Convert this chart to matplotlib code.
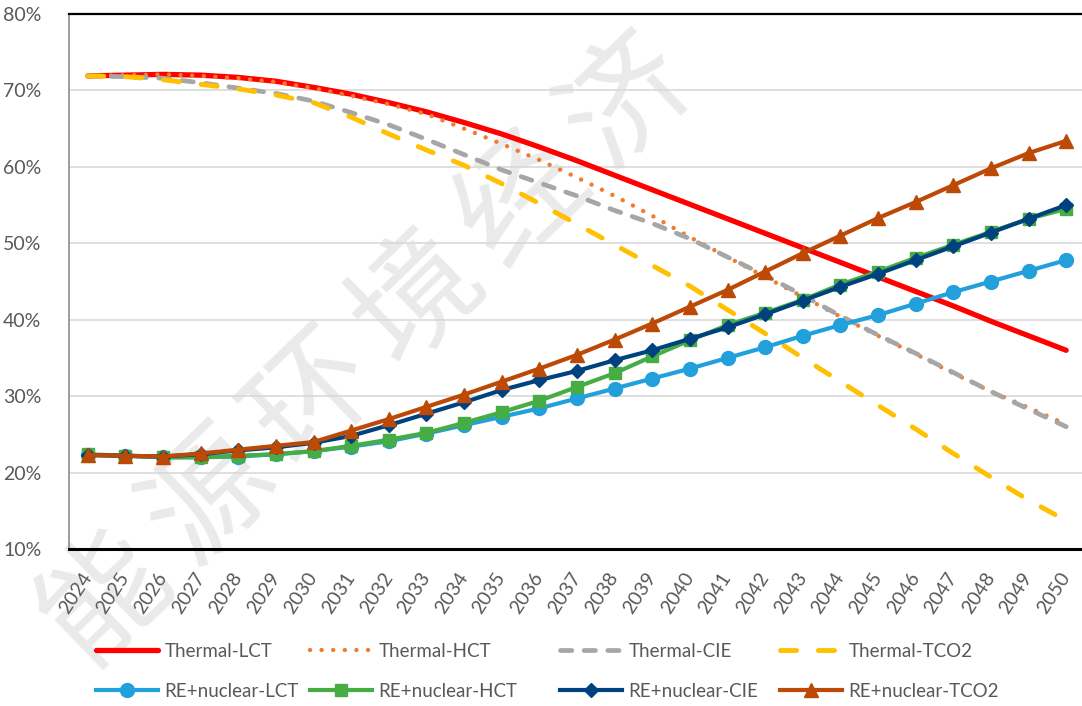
import matplotlib
matplotlib.use("Agg")
import matplotlib.pyplot as plt
import numpy as np

years = [str(y) for y in range(2024, 2051)]

thermal_lct = [71.9, 72.0, 72.1, 72.0, 71.7, 71.2, 70.4, 69.5, 68.4, 67.2, 65.8, 64.3, 62.6,
               60.8, 58.9, 57.0, 55.1, 53.2, 51.3, 49.4, 47.5, 45.6, 43.7, 41.8, 39.8, 37.9, 36.0]
thermal_hct = [71.9, 72.0, 72.1, 71.9, 71.6, 71.1, 70.3, 69.3, 68.2, 66.9, 65.0, 63.0, 60.9,
               58.6, 56.2, 53.6, 50.8, 48.2, 45.6, 43.0, 40.4, 37.9, 35.5, 33.0, 30.6, 28.5, 26.3]
thermal_cie = [71.9, 71.8, 71.6, 71.0, 70.3, 69.6, 68.6, 67.1, 65.5, 63.6, 61.6, 59.6, 57.9,
               56.2, 54.3, 52.6, 50.6, 48.2, 45.8, 43.2, 40.5, 38.0, 35.6, 33.1, 30.6, 28.3, 26.0]
thermal_tco2 = [71.9, 71.8, 71.4, 70.8, 70.2, 69.4, 68.4, 66.5, 64.3, 62.2, 60.2, 57.8, 55.2,
                52.5, 49.8, 47.1, 44.4, 41.3, 38.2, 35.0, 31.9, 28.8, 25.7, 22.5, 19.4, 16.4, 13.7]
re_lct = [22.3, 22.2, 22.0, 22.0, 22.1, 22.4, 22.8, 23.4, 24.1, 25.1, 26.2, 27.3, 28.4,
          29.7, 31.0, 32.3, 33.6, 35.0, 36.4, 37.9, 39.3, 40.6, 42.1, 43.6, 45.0, 46.4, 47.8]
re_hct = [22.4, 22.2, 22.0, 22.0, 22.2, 22.4, 22.8, 23.5, 24.3, 25.2, 26.5, 27.9, 29.4,
          31.2, 33.0, 35.2, 37.3, 39.3, 40.9, 42.6, 44.6, 46.3, 48.1, 49.8, 51.5, 53.2, 54.5]
re_cie = [22.3, 22.2, 22.1, 22.4, 22.9, 23.3, 23.9, 24.8, 26.2, 27.7, 29.2, 30.8, 32.1,
          33.3, 34.7, 36.0, 37.5, 39.0, 40.7, 42.5, 44.3, 46.0, 47.8, 49.6, 51.4, 53.2, 55.0]
re_tco2 = [22.3, 22.2, 22.1, 22.5, 23.0, 23.5, 24.0, 25.5, 27.0, 28.6, 30.2, 31.9, 33.6,
           35.4, 37.4, 39.5, 41.7, 43.9, 46.3, 48.7, 51.0, 53.3, 55.4, 57.6, 59.8, 61.8, 63.4]

labels = ["Thermal-LCT", "Thermal-HCT", "Thermal-CIE", "Thermal-TCO2",
          "RE+nuclear-LCT", "RE+nuclear-HCT", "RE+nuclear-CIE", "RE+nuclear-TCO2"]
y_ticks = [10, 20, 30, 40, 50, 60, 70, 80]
watermark = "能源环境经济"

FONT = "Lato"
TXT = "#595959"

W, H = 1082, 706
fig = plt.figure(figsize=(W / 100, H / 100), dpi=100)
fig.patch.set_facecolor("white")

# watermark, one character at a time along a diagonal
x0, y0 = 106, 598
dx, dy = 104.5, -99.5
for i, ch in enumerate(watermark):
    fig.text((x0 + i * dx) / W, 1 - (y0 + i * dy) / H, ch, fontsize=90, color="#eaeaea",
             family=["Noto Sans CJK SC", "DejaVu Sans"], rotation=44,
             rotation_mode="anchor", ha="center", va="center", zorder=-5)

ax = fig.add_axes([69 / W, 1 - 549 / H, (1085 - 69) / W, 535 / H])
ax.set_facecolor("none")
ax.set_zorder(1)

x = np.arange(len(years))

styles = [
    dict(color="#ff0000", lw=3.8, solid_capstyle="round"),
    dict(color="#f07c30", lw=3.2, linestyle=(0, (0.01, 2.6)), dash_capstyle="round"),
    dict(color="#a6a6a6", lw=3.4, linestyle=(0, (2.4, 2.6)), dash_capstyle="round"),
    dict(color="#ffc000", lw=3.5, linestyle=(0, (3.3, 4.5)), dash_capstyle="round"),
    dict(color="#22a0dc", lw=3.0, marker="o", ms=10),
    dict(color="#46ad45", lw=3.0, marker="s", ms=9),
    dict(color="#00427f", lw=3.0, marker="D", ms=7.5),
    dict(color="#bc4a06", lw=3.0, marker="^", ms=10.5),
]
series = [thermal_lct, thermal_hct, thermal_cie, thermal_tco2, re_lct, re_hct, re_cie, re_tco2]

handles = []
for s, st, lab in zip(series, styles, labels):
    h, = ax.plot(x, s, label=lab, **st)
    handles.append(h)

ax.set_xlim(-0.5, len(years) - 0.5)
ax.set_ylim(10, 80)
ax.set_yticks(y_ticks)
ax.set_yticklabels([f"{v}%" for v in y_ticks])
ax.set_xticks(x)
ax.set_xticklabels(years, rotation=57, ha="right", va="center", rotation_mode="anchor")
ax.tick_params(axis="both", length=0, labelcolor=TXT, labelsize=14)
ax.tick_params(axis="y", pad=20)
ax.tick_params(axis="x", pad=18)
for lab in ax.get_xticklabels() + ax.get_yticklabels():
    lab.set_family(FONT)

ax.grid(axis="y", color="#d9d9d9", lw=1.2)
ax.set_axisbelow(True)
ax.spines["top"].set_color("black")
ax.spines["top"].set_linewidth(1.6)
ax.spines["bottom"].set_color("black")
ax.spines["bottom"].set_linewidth(2.2)
ax.spines["left"].set_color("#8c8c8c")
ax.spines["left"].set_linewidth(1.2)
ax.spines["right"].set_visible(False)

col_x = [96, 310, 560, 780]
for c in range(4):
    hs = [handles[c], handles[c + 4]]
    ls = [labels[c], labels[c + 4]]
    leg = fig.legend(hs, ls, loc="upper left", bbox_to_anchor=(col_x[c] / W, 1 - 643 / H),
                     frameon=False, borderpad=0, borderaxespad=0, handlelength=3.3,
                     handletextpad=0.35, labelspacing=1.22,
                     prop={"family": FONT, "size": 13.5})
    for t in leg.get_texts():
        t.set_color(TXT)

fig.savefig("out.png", dpi=100, facecolor="white")
